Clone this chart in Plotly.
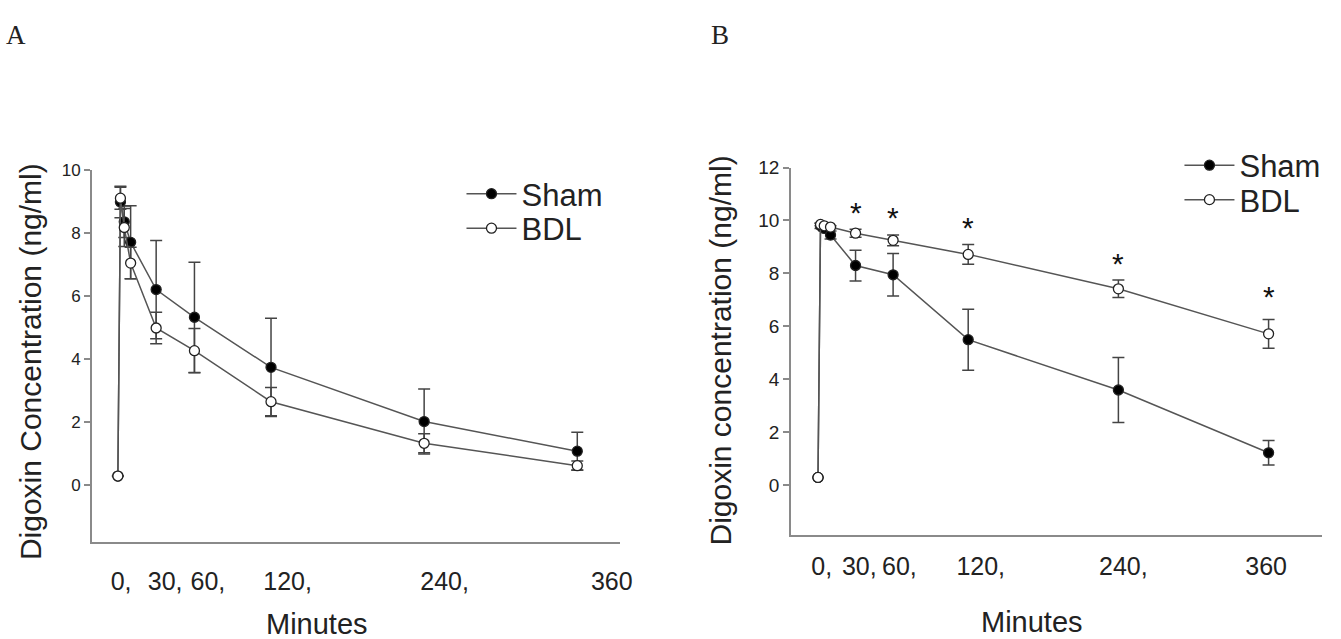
import plotly.graph_objects as go

# ---------------- data ----------------
time_min = [0, 2, 5, 10, 30, 60, 120, 240, 360]

# Panel A
sham_a = [0.3, 9.0, 8.37, 7.72, 6.22, 5.34, 3.75, 2.03, 1.09]
sham_a_err = [0, 0.5, 0.5, 1.16, 1.56, 1.75, 1.56, 1.03, 0.6]
bdl_a = [0.3, 9.12, 8.19, 7.06, 5.0, 4.28, 2.66, 1.34, 0.63]
bdl_a_err = [0, 0.35, 0.6, 0.5, 0.5, 0.7, 0.45, 0.3, 0.15]

# Panel B
sham_b = [0.3, 9.8, 9.7, 9.45, 8.3, 7.95, 5.5, 3.6, 1.23]
sham_b_err = [0, 0.1, 0.1, 0.15, 0.58, 0.8, 1.15, 1.23, 0.46]
bdl_b = [0.3, 9.85, 9.8, 9.75, 9.52, 9.25, 8.72, 7.42, 5.72]
bdl_b_err = [0, 0.05, 0.05, 0.05, 0.15, 0.2, 0.37, 0.33, 0.54]

# significance stars (panel B)
star_t = [30, 60, 120, 240, 360]
star_y = [10.6, 10.41, 10.04, 8.66, 7.43]

tick_labels = ["0,", "30,", "60,", "120,", "240,", "360"]
tick_pos_a = [2.5, 37, 70.5, 133, 256, 387]
tick_pos_b = [3, 33, 65, 130, 244, 358]
yticks_a = [0, 2, 4, 6, 8, 10]
yticks_b = [0, 2, 4, 6, 8, 10, 12]

FONT = "Liberation Sans, Arial, sans-serif"
LINE = "#555555"
AXC = "#8a8a8a"
W, H = 1341, 639

fig = go.Figure()


def add_series(x, y, err, name, filled, xa, ya, legend):
    fig.add_trace(go.Scatter(
        x=x, y=y, name=name, mode="lines+markers",
        xaxis=xa, yaxis=ya, legend=legend, showlegend=True,
        line=dict(color=LINE, width=1.5),
        marker=dict(size=10, symbol="circle",
                    color="black" if filled else "white",
                    line=dict(color="#222222", width=1.3)),
        error_y=dict(type="data", array=err, visible=True,
                     color="#444444", thickness=1.5, width=6),
    ))


add_series(time_min, sham_a, sham_a_err, "Sham", True, "x", "y", "legend")
add_series(time_min, bdl_a, bdl_a_err, "BDL", False, "x", "y", "legend2")
add_series(time_min, sham_b, sham_b_err, "Sham", True, "x2", "y2", "legend3")
add_series(time_min, bdl_b, bdl_b_err, "BDL", False, "x2", "y2", "legend4")

annotations = []
for t, v in zip(star_t, star_y):
    annotations.append(dict(x=t, y=v, xref="x2", yref="y2", text="*",
                            showarrow=False, yshift=-8,
                            xanchor="center", yanchor="middle",
                            font=dict(family=FONT, size=30, color="#111")))


def txt(text, x, y, size, family=FONT, angle=0):
    return dict(text=text, x=x / W, y=1 - y / H, xref="paper", yref="paper",
                showarrow=False, xanchor="center", yanchor="middle",
                textangle=angle, font=dict(family=family, size=size, color="#222"))


annotations += [
    txt("Minutes", 320, 624, 29),
    txt("Minutes", 1042, 622, 29),
    txt("Digoxin Concentration (ng/ml)", 31, 357, 30, angle=-90),
    txt("Digoxin concentration (ng/ml)", 728, 346, 30, angle=-90),
    txt("A", 16, 25, 27, family="Liberation Serif, serif"),
    txt("B", 727, 25, 27, family="Liberation Serif, serif"),
]


def leg(x, y):
    return dict(x=x / W, y=1 - y / H, xanchor="left", yanchor="middle",
                itemwidth=50, font=dict(family=FONT, size=31, color="#222"),
                bgcolor="rgba(0,0,0,0)", borderwidth=0)


xcommon = dict(showline=True, linecolor=AXC, linewidth=2, ticks="",
               showgrid=False, zeroline=False, tickmode="array",
               ticktext=tick_labels, tickfont=dict(family=FONT, size=25, color="#222"))
ycommon = dict(showline=True, linecolor=AXC, linewidth=2, ticks="outside",
               ticklen=6, tickcolor=AXC, tickwidth=1.5, showgrid=False,
               zeroline=False, tickmode="array")

fig.update_layout(
    width=W, height=H,
    margin=dict(l=0, r=0, t=0, b=0),
    paper_bgcolor="white", plot_bgcolor="white",
    xaxis=dict(domain=[0.06935, 0.4668], range=[-20.2, 393.4],
               tickvals=tick_pos_a, ticklabelstandoff=16, anchor="y", **xcommon),
    yaxis=dict(domain=[0.1549, 0.7449], range=[-1.78, 10], anchor="x",
               tickvals=yticks_a, tickfont=dict(family=FONT, size=17, color="#222"),
               **ycommon),
    xaxis2=dict(domain=[0.5958, 0.9955], range=[-21.4, 402.7],
                tickvals=tick_pos_b, ticklabelstandoff=8, anchor="y2", **xcommon),
    yaxis2=dict(domain=[0.1659, 0.7496], range=[-1.86, 12], anchor="x2",
                tickvals=yticks_b, tickfont=dict(family=FONT, size=19, color="#222"),
                **ycommon),
    legend=leg(466, 187),
    legend2=leg(466, 222),
    legend3=leg(1191, 158),
    legend4=leg(1191, 193),
    annotations=annotations,
    showlegend=True,
)

fig.write_html(
    "out.html",
    config={"displayModeBar": False},
    post_script="document.body.style.margin='0';document.body.style.overflow='hidden';",
)
